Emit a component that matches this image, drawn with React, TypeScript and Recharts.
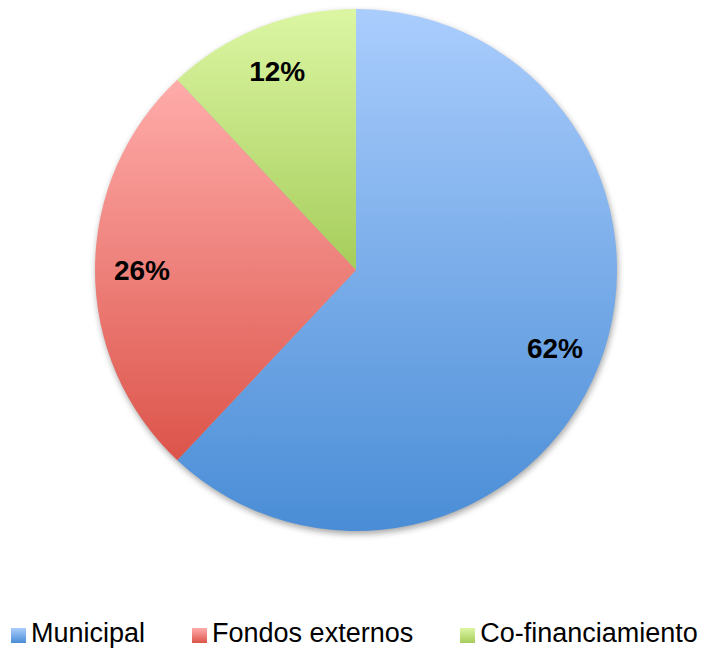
import { PieChart, Pie, Cell, Legend } from 'recharts'

document.body.style.margin = '0'

const categories = ['Municipal', 'Fondos externos', 'Co-financiamiento']
const shares = [62, 26, 12]
const topColors = ['#aacdfd', '#ffacaa', '#dcf6a3']
const bottomColors = ['#4a8dd6', '#dc544a', '#a6cd5b']

const data = categories.map((name, i) => ({ name, value: shares[i] }))
const FONT = '"Liberation Sans", Arial, sans-serif'
const RAD = Math.PI / 180

const renderLabel = ({ cx, cy, midAngle, outerRadius, value }: any) => {
  const r = outerRadius * 0.82
  const x = cx + r * Math.cos(-midAngle * RAD)
  const y = cy + r * Math.sin(-midAngle * RAD)
  return (
    <text
      x={x}
      y={y}
      textAnchor="middle"
      dominantBaseline="central"
      fill="#000"
      fontSize={28}
      fontWeight="bold"
      fontFamily={FONT}
    >
      {value}%
    </text>
  )
}

const LegendContent = () => (
  <div
    style={{
      display: 'flex',
      alignItems: 'center',
      paddingLeft: 11,
      fontFamily: FONT,
      fontSize: 27,
      whiteSpace: 'nowrap',
    }}
  >
    {categories.map((c, i) => (
      <div key={c} style={{ display: 'flex', alignItems: 'center', marginRight: 47, flexShrink: 0 }}>
        <span
          style={{
            width: 15,
            height: 15,
            marginRight: 5,
            marginTop: 4,
            flexShrink: 0,
            background: `linear-gradient(${topColors[i]}, ${bottomColors[i]})`,
          }}
        />
        <span style={{ color: '#000' }}>{c}</span>
      </div>
    ))}
  </div>
)

export default function App() {
  return (
    <PieChart width={715} height={651} margin={{ top: 0, right: 0, bottom: 0, left: 0 }}>
      <defs>
        {categories.map((_, i) => (
          <linearGradient key={i} id={`grad${i}`} x1="0" y1="0" x2="0" y2="1">
            <stop offset="0%" stopColor={topColors[i]} />
            <stop offset="100%" stopColor={bottomColors[i]} />
          </linearGradient>
        ))}
        <filter id="blur" x="-10%" y="-10%" width="120%" height="120%">
          <feGaussianBlur stdDeviation="3" />
        </filter>
      </defs>
      <Pie
        data={[{ name: 'shadow', value: 100 }]}
        dataKey="value"
        cx={357}
        cy={273}
        outerRadius={261}
        stroke="none"
        isAnimationActive={false}
        legendType="none"
      >
        <Cell fill="rgba(0,0,0,0.35)" filter="url(#blur)" />
      </Pie>
      <Pie
        data={data}
        dataKey="value"
        cx={356}
        cy={270}
        outerRadius={261}
        startAngle={90}
        endAngle={-270}
        stroke="none"
        label={renderLabel}
        labelLine={false}
        isAnimationActive={false}
      >
        {data.map((_, i) => (
          <Cell key={i} fill={`url(#grad${i})`} />
        ))}
      </Pie>
      <Legend
        verticalAlign="bottom"
        content={<LegendContent />}
        wrapperStyle={{ bottom: 2, left: 0, width: 715 }}
      />
    </PieChart>
  )
}
